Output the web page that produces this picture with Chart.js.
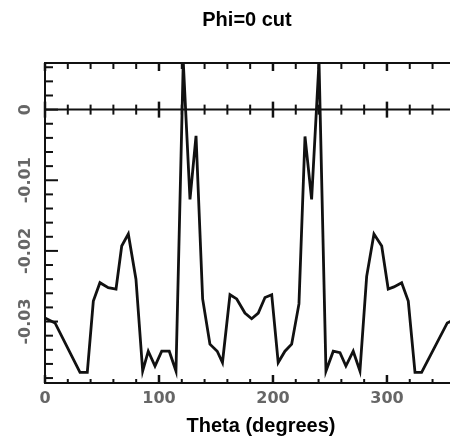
<!DOCTYPE html>
<html>
<head>
<meta charset="utf-8">
<script src="https://cdn.jsdelivr.net/npm/chart.js@4/dist/chart.umd.min.js"></script>
<style>
  html, body { margin: 0; padding: 0; background: #fff; overflow: hidden; }
  #wrap { position: absolute; left: 0; top: 0; width: 494px; height: 439px; }
</style>
</head>
<body>
<div id="wrap"><canvas id="c" width="494" height="439"></canvas></div>
<script>
// ---- data ----
const chartTitle = 'Phi=0 cut';
const xTitle = 'Theta (degrees)';

const theta = [0, 8.8, 30.7, 37.1, 42.4, 48.2, 55.5, 62.3, 67.3, 73.1,
  79.8, 85.7, 90.6, 96.5, 102.4, 109, 114.9, 121.3, 127.2, 132.5,
  138.3, 144.7, 151.1, 155.7, 162.3, 168.2, 175.4, 181.3, 187.1, 193,
  198.9, 204.6, 210.5, 216.4, 222.8, 228.1, 233.9, 240.4, 246.5, 252.9,
  258.8, 264, 270.4, 276.3, 282.2, 288.6, 295.4, 301.1, 306.1, 312.9,
  318.7, 324.6, 330.4, 352.9, 361.7];

const gain = [-0.0295, -0.0302, -0.0372, -0.0372, -0.0271, -0.0245, -0.0252, -0.0254, -0.0193, -0.0176,
  -0.0240, -0.0370, -0.0342, -0.0363, -0.0342, -0.0342, -0.0370, 0.0068, -0.0127, -0.0037,
  -0.0268, -0.0332, -0.0342, -0.0358, -0.0262, -0.0268, -0.0288, -0.0296, -0.0288, -0.0266,
  -0.0262, -0.0358, -0.0342, -0.0332, -0.0275, -0.0038, -0.0127, 0.0068, -0.0370, -0.0342,
  -0.0344, -0.0363, -0.0342, -0.0370, -0.0236, -0.0176, -0.0193, -0.0254, -0.0251, -0.0245,
  -0.0271, -0.0372, -0.0372, -0.0302, -0.0295];

const xTickValues = [0, 100, 200, 300];
const xTickLabels = ['0', '100', '200', '300'];
const yTickValues = [0, -0.01, -0.02, -0.03];
const yTickLabels = ['0', '-0.01', '-0.02', '-0.03'];

const X_MIN = 0, X_MAX = 379, X_MINOR = 20, X_MAJOR = 100;
const Y_MIN = -0.0387, Y_MAX = 0.0066, Y_MINOR = 0.002, Y_MAJOR_EVERY = 5;

// ---- IDL-style frame ticks drawn through the chart's scales ----
const frameTicks = {
  id: 'frameTicks',
  afterDatasetsDraw(chart) {
    const { ctx, chartArea: a, scales: { x, y } } = chart;
    const ln = (x1, y1, x2, y2, w) => {
      ctx.lineWidth = w;
      ctx.beginPath(); ctx.moveTo(x1, y1); ctx.lineTo(x2, y2); ctx.stroke();
    };
    ctx.save();
    ctx.strokeStyle = '#111';
    ctx.lineCap = 'butt';
    const y0 = y.getPixelForValue(0);
    ln(a.left, a.top, a.right, a.top, 2);
    ln(a.left, y0, a.right, y0, 2);
    for (let k = 0; k * X_MINOR <= X_MAX; k++) {
      const v = k * X_MINOR;
      const px = x.getPixelForValue(v);
      const major = v % X_MAJOR === 0;
      const w = major ? 2.5 : 2;
      ln(px, a.bottom, px, a.bottom - (major ? 8 : 4), w);
      ln(px, a.top, px, a.top + (major ? 8 : 6), w);
      ln(px, y0 - (major ? 8 : 5), px, y0 + (major ? 8 : 5), w);
    }
    const kMin = Math.ceil(Y_MIN / Y_MINOR), kMax = Math.floor(Y_MAX / Y_MINOR);
    for (let k = kMin; k <= kMax; k++) {
      const py = y.getPixelForValue(k * Y_MINOR);
      const major = k % Y_MAJOR_EVERY === 0;
      ln(a.left, py, a.left + (major ? 13 : 8), py, 2);
    }
    ctx.restore();
  }
};

const tickFont = { family: 'DejaVu Sans', size: 16, weight: 'bold' };
const findLabel = (vals, labels, v) => {
  const i = vals.findIndex(t => Math.abs(t - v) < 1e-9);
  return i >= 0 ? labels[i] : '';
};

new Chart(document.getElementById('c'), {
  type: 'line',
  data: {
    datasets: [{
      data: theta.map((t, i) => ({ x: t, y: gain[i] })),
      borderColor: '#111',
      borderWidth: 2.8,
      pointRadius: 0,
      tension: 0,
      fill: false
    }]
  },
  options: {
    responsive: false,
    animation: false,
    devicePixelRatio: 1,
    layout: { padding: 0 },
    plugins: {
      legend: { display: false },
      tooltip: { enabled: false },
      title: {
        display: true,
        text: chartTitle,
        color: '#000',
        font: { family: 'Liberation Sans', size: 20, weight: 'bold', lineHeight: 1.2 },
        padding: { top: 8, bottom: 31 }
      }
    },
    scales: {
      x: {
        type: 'linear',
        position: 'bottom',
        min: X_MIN, max: X_MAX,
        afterFit(s) { s.height = 56; },
        grid: { display: false },
        border: { display: true, color: '#111', width: 2 },
        ticks: {
          stepSize: X_MINOR,
          includeBounds: false,
          autoSkip: false,
          maxRotation: 0, minRotation: 0,
          padding: -2,
          color: '#666',
          font: tickFont,
          callback: v => findLabel(xTickValues, xTickLabels, v)
        },
        title: {
          display: true,
          text: xTitle,
          color: '#000',
          font: { family: 'Liberation Sans', size: 20, weight: 'bold', lineHeight: 1.2 },
          padding: { top: 0, bottom: 1 }
        }
      },
      y: {
        type: 'linear',
        position: 'left',
        min: Y_MIN, max: Y_MAX,
        afterFit(s) { s.width = 45; },
        grid: { display: false },
        border: { display: true, color: '#111', width: 2 },
        ticks: {
          stepSize: 0.01,
          includeBounds: false,
          minRotation: 90, maxRotation: 90,
          crossAlign: 'center',
          padding: -12,
          color: '#666',
          font: tickFont,
          callback: v => findLabel(yTickValues, yTickLabels, v)
        }
      },
      y2: {
        type: 'linear',
        position: 'right',
        display: true,
        afterFit(s) { s.width = 17; },
        grid: { display: false },
        border: { display: false },
        ticks: { display: false }
      }
    }
  },
  plugins: [frameTicks]
});
</script>
</body>
</html>
